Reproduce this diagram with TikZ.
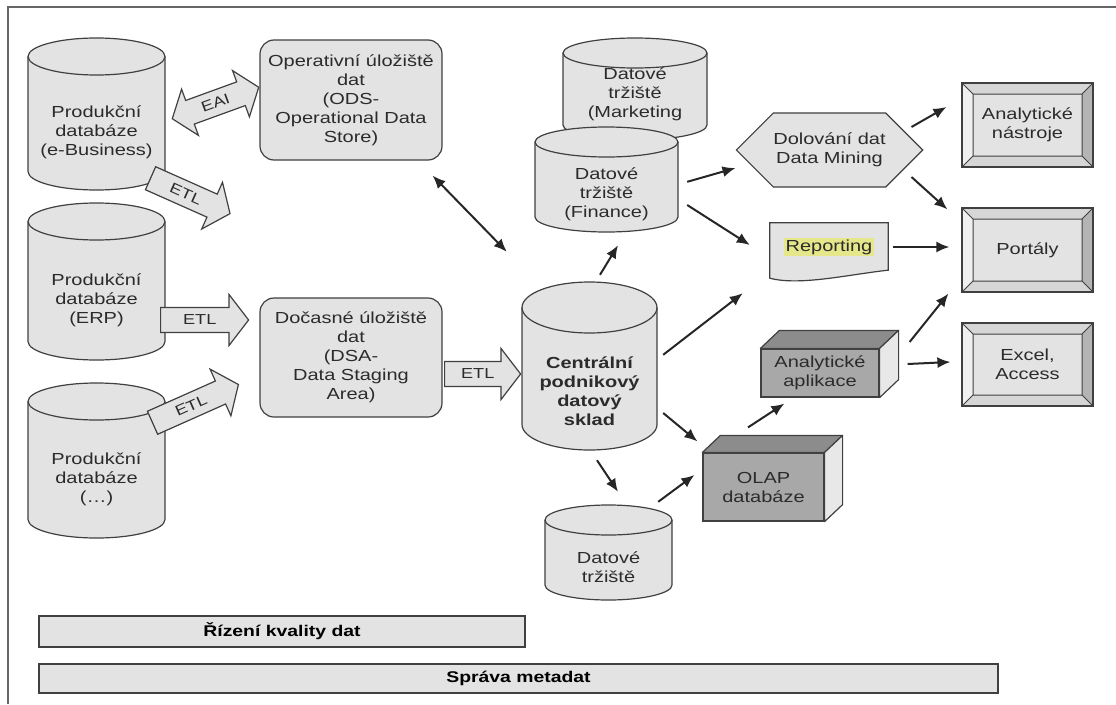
\documentclass[tikz,border=0pt]{standalone}
\usepackage{fontspec}
\setmainfont{Liberation Sans}[FakeStretch=1.25]
\usetikzlibrary{shapes.arrows,shapes.symbols,arrows.meta,calc,backgrounds}

\definecolor{boxgray}{HTML}{E3E3E3}
\definecolor{linegray}{HTML}{404040}
\definecolor{txtgray}{HTML}{2B2B2B}
\definecolor{cubefront}{HTML}{A8A8A8}
\definecolor{cubetop}{HTML}{8C8C8C}
\definecolor{cubeside}{HTML}{E8E8E8}
\definecolor{bevlight}{HTML}{F0F0F0}
\definecolor{bevmid}{HTML}{D6D6D6}
\definecolor{bevdark}{HTML}{B4B4B4}
\definecolor{hlyellow}{HTML}{E6E68A}

\tikzset{
  dbline/.style={draw=linegray, line width=1.2},
  dbbody/.style={inner sep=0pt, align=center},
  storebox/.style={draw=linegray, fill=boxgray, line width=1.2, rounded corners=14,
    align=center, inner sep=2, minimum width=182, minimum height=120},
  etl/.style={single arrow, anchor=tail, draw=linegray, fill=boxgray, line width=1.2,
    inner xsep=3, inner ysep=7, single arrow head extend=13, single arrow tip angle=105,
    font=\fontsize{14.5}{17}\selectfont},
  eai/.style={double arrow, draw=linegray, fill=boxgray, line width=1.2,
    inner xsep=3, inner ysep=7, double arrow head extend=12, double arrow tip angle=105,
    font=\fontsize{14.5}{17}\selectfont},
  mine/.style={signal, signal to=east and west, signal pointer angle=90, draw=linegray,
    fill=boxgray, line width=1.2, minimum width=165, minimum height=74, inner sep=0, align=center},
  cube/.style={draw=linegray, fill=cubefront, line width=1.2, align=center, inner sep=0},
  cubeface/.style={draw=linegray, line width=1.2, line join=round},
  tool/.style={draw=linegray, fill=boxgray, line width=1.2, minimum width=131,
    minimum height=84, align=center, inner sep=0,
    path picture={
      \coordinate (p1) at (path picture bounding box.north west);
      \coordinate (p2) at (path picture bounding box.north east);
      \coordinate (p3) at (path picture bounding box.south east);
      \coordinate (p4) at (path picture bounding box.south west);
      \coordinate (q1) at ($(p1)+(11,11)$);
      \coordinate (q2) at ($(p2)+(-11,11)$);
      \coordinate (q3) at ($(p3)+(-11,-11)$);
      \coordinate (q4) at ($(p4)+(11,-11)$);
      \fill[bevmid] (p1) -- (p2) -- (q2) -- (q1) -- cycle;
      \fill[bevdark] (p2) -- (p3) -- (q3) -- (q2) -- cycle;
      \fill[bevmid] (p3) -- (p4) -- (q4) -- (q3) -- cycle;
      \fill[bevlight] (p4) -- (p1) -- (q1) -- (q4) -- cycle;
      \draw[linegray, line width=1] (q1) -- (q2) -- (q3) -- (q4) -- cycle
        (p1) -- (q1) (p2) -- (q2) (p3) -- (q3) (p4) -- (q4);
      \draw[linegray, line width=1.8] (p1) -- (p2) -- (p3) -- (p4) -- cycle;
    }},
  bar/.style={draw=linegray, fill=boxgray, line width=1.2,
    font=\fontsize{15.5}{18}\selectfont\bfseries, text=black},
  arr/.style={-{Latex[length=13pt,width=11pt]}, line width=2, black!85},
  darr/.style={{Latex[length=13pt,width=11pt]}-{Latex[length=13pt,width=11pt]}, line width=2, black!85}
}

% [node options] name, centre x, top y, width, height, ellipse y radius, text
\newcommand\dbstore[8][]{%
  \fill[boxgray] (#3-#5/2,#4+#7) -- (#3-#5/2,#4+#6-#7)
    arc[start angle=180, end angle=360, x radius={#5*0.5pt}, y radius={#7*1pt}]
    -- (#3+#5/2,#4+#7)
    arc[start angle=0, end angle=180, x radius={#5*0.5pt}, y radius={#7*1pt}] -- cycle;
  \draw[dbline] (#3-#5/2,#4+#7) -- (#3-#5/2,#4+#6-#7)
    arc[start angle=180, end angle=360, x radius={#5*0.5pt}, y radius={#7*1pt}]
    -- (#3+#5/2,#4+#7)
    arc[start angle=0, end angle=180, x radius={#5*0.5pt}, y radius={#7*1pt}] -- cycle;
  \draw[dbline] (#3-#5/2,#4+#7)
    arc[start angle=180, end angle=360, x radius={#5*0.5pt}, y radius={#7*1pt}];
  \node[dbbody, minimum width=#5, minimum height=#6-2*#7, #1] (#2) at (#3,#4+#7+#6/2) {#8};
}

\begin{document}
\begin{tikzpicture}[x=1pt, y=-1pt, font=\fontsize{16}{19}\selectfont, text=txtgray]
\useasboundingbox (0,0) rectangle (1116,704);
\draw[linegray!80, line width=1.5] (8,704) -- (8,7) -- (1116,7);

% sources
\dbstore{eb}{96.5}{38}{137}{152}{18.5}{Produkční\\databáze\\(e-Business)}
\dbstore{erp}{96.5}{203}{137}{157}{18.5}{Produkční\\databáze\\(ERP)}
\dbstore{dots}{96.5}{383}{137}{155}{18.5}{Produkční\\databáze\\(…)}

\node[storebox] (ods) at (351,100) {Operativní úložiště\\dat\\(ODS-\\Operational Data\\Store)};
\node[storebox, minimum height=119] (dsa) at (351,357.5) {Dočasné úložiště\\dat\\(DSA-\\Data Staging\\Area)};

\node[eai, minimum height=92, rotate=20] (eai) at (215.5,103) {EAI};
\node[etl, minimum height=87, rotate=-24] (etlA) at (150,178) {ETL};
\node[etl, minimum height=88] (etlB) at (160,320) {ETL};
\node[etl, minimum height=94, rotate=24] (etlC) at (152,423) {ETL};
\node[etl, minimum height=76] (etlD) at (444,374) {ETL};

% warehouse and marts
\dbstore{dwh}{589.5}{282}{135}{168}{25.5}{\bfseries Centrální\\\bfseries podnikový\\\bfseries datový\\\bfseries sklad}
\dbstore[yshift=10]{mkt}{635}{38}{144}{102}{15}{Datové\\tržiště\\(Marketing}
\dbstore{fin}{606.5}{127}{143}{105}{15}{Datové\\tržiště\\(Finance)}
\dbstore{mart}{608.5}{505}{127}{95}{15}{Datové\\tržiště}

% analysis
\node[mine] (mining) at (829.5,150) {Dolování dat\\Data Mining};
\node[minimum width=118, minimum height=48, inner sep=0] (rep) at (829,247)
  {\setlength{\fboxsep}{1.5pt}\colorbox{hlyellow}{Reporting}};
\begin{scope}[on background layer]
  \draw[dbline, fill=boxgray] (rep.north west) -- (rep.north east) -- ($(rep.south east)+(0,-1)$)
    .. controls ($(rep.south east)+(-38,3)$) and ($(rep.south west)+(30,15)$) .. ($(rep.south west)+(0,7)$) -- cycle;
\end{scope}

\node[cube, minimum width=118, minimum height=48] (aa) at (820,373) {Analytické\\aplikace};
\draw[cubeface, fill=cubetop] (aa.north west) -- ++(19,-18) -- ($(aa.north east)+(19,-18)$) -- (aa.north east) -- cycle;
\draw[cubeface, fill=cubeside] (aa.north east) -- ++(19,-18) -- ($(aa.south east)+(19,-18)$) -- (aa.south east) -- cycle;

\node[cube, minimum width=121, minimum height=68] (olap) at (763.5,487) {OLAP\\databáze};
\draw[cubeface, fill=cubetop] (olap.north west) -- ++(18,-17) -- ($(olap.north east)+(18,-17)$) -- (olap.north east) -- cycle;
\draw[cubeface, fill=cubeside] (olap.north east) -- ++(18,-17) -- ($(olap.south east)+(18,-17)$) -- (olap.south east) -- cycle;

% front ends
\node[tool] (tools) at (1027.5,125) {Analytické\\nástroje};
\node[tool] (port) at (1027.5,250) {Portály};
\node[tool, minimum height=83] (xls) at (1027.5,364.5) {Excel,\\Access};

% cross-cutting
\node[bar, minimum width=486, minimum height=31] (dq) at (282,631.5) {Řízení kvality dat};
\node[bar, minimum width=959, minimum height=29] (meta) at (518.5,678.5) {Správa metadat};

% flows
\draw[darr] ($(ods.south east)+(-10,15)$) -- ($(dwh.north west)+(-15,-81)$);
\draw[arr] ($(dwh.north)+(10.5,-58)$) -- ($(fin.south)+(11.5,13)$);
\draw[arr] ($(fin.north east)+(9,25)$) -- ($(mining.west)+(0,18)$);
\draw[arr] ($(fin.east)+(9,10.5)$) -- ($(rep.west)+(-20,-2)$);
\draw[arr] ($(dwh.north east)+(6,22)$) -- ($(rep.south west)+(-27,22)$);
\draw[arr] ($(dwh.east)+(6,21.5)$) -- ($(olap.north west)+(-5,-11)$);
\draw[arr] ($(dwh.south)+(7.5,10)$) -- ($(mart.north)+(9.5,-43)$);
\draw[arr] ($(mart.north east)+(-14,-33)$) -- ($(olap.west)+(-8,-12)$);
\draw[arr] ($(olap.north)+(-15.5,-25)$) -- ($(aa.south west)+(24,6)$);
\draw[arr] ($(mining.east)+(-12,-23)$) -- ($(tools.west)+(-15,-18)$);
\draw[arr] ($(mining.east)+(-12,27)$) -- ($(port.north west)+(-14,2)$);
\draw[arr, shorten <=5, shorten >=12] (rep.east) -- (rep.east -| port.west);
\draw[arr] ($(aa.east)+(30,-31)$) -- ($(port.south west)+(-13,1)$);
\draw[arr] ($(aa.east)+(28,-9)$) -- ($(xls.west)+(-11,-2.5)$);
\end{tikzpicture}
\end{document}
